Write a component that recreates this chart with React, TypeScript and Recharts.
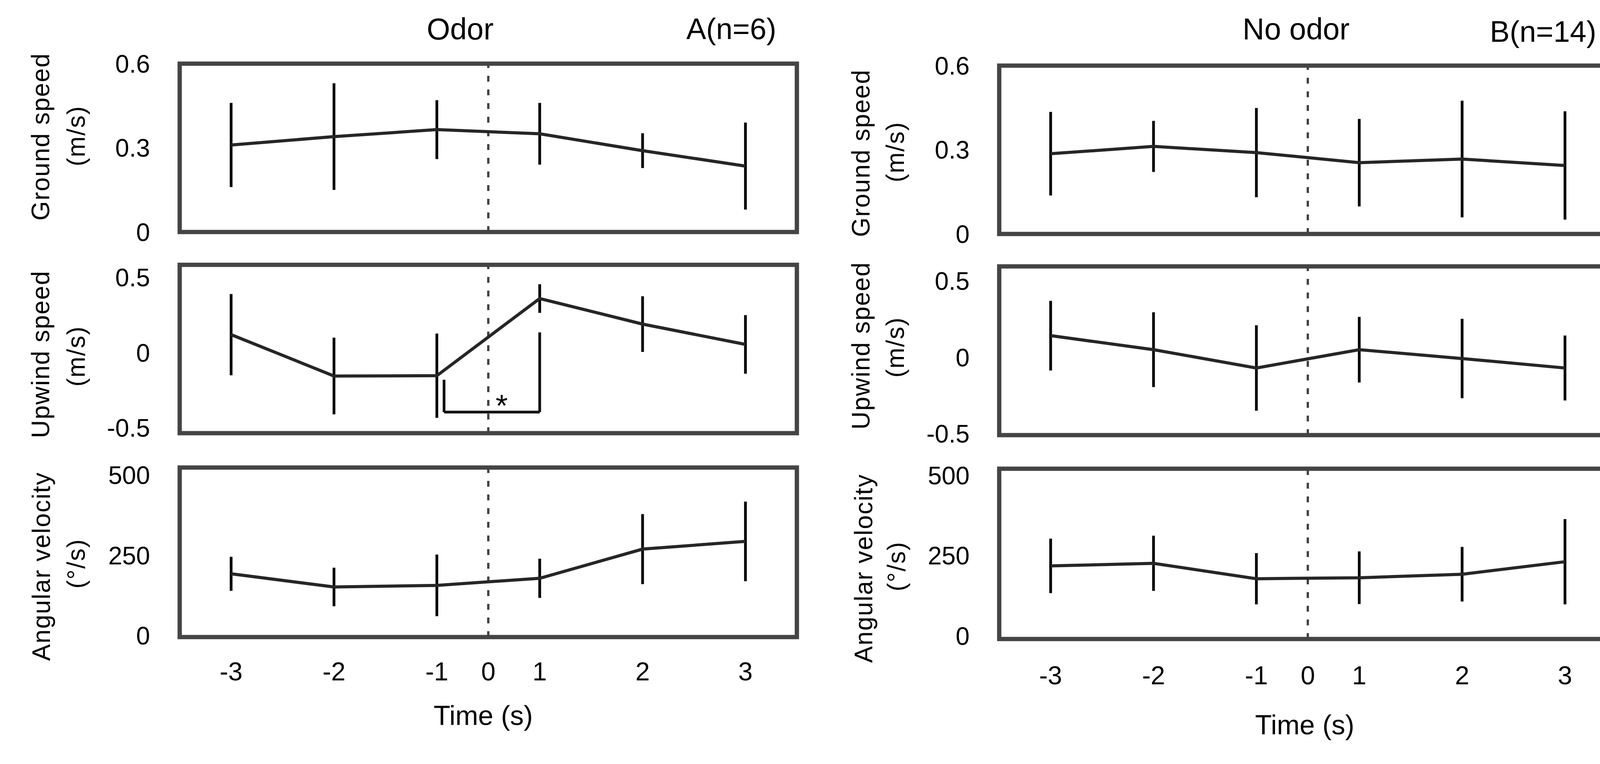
import React from 'react'
import { LineChart, Line, XAxis, YAxis, ErrorBar, ReferenceLine, ReferenceArea, ReferenceDot } from 'recharts'

// time points (s) that carry a measurement, and the ticks printed under the axis
const times = [-3, -2, -1, 1, 2, 3]
const tickTimes = [-3, -2, -1, 0, 1, 2, 3]

// A: odor (n=6)
const groundOdorMean = [0.31, 0.34, 0.365, 0.35, 0.29, 0.235]
const groundOdorErr = [0.15, 0.19, 0.105, 0.11, 0.062, 0.155]
const upwindOdorMean = [0.12, -0.155, -0.153, 0.36, 0.19, 0.055]
const upwindOdorErr = [0.27, 0.255, 0.28, 0.095, 0.185, 0.195]
const angularOdorMean = [193, 152, 157, 179, 270, 294]
const angularOdorErr = [53, 60, 96, 61, 109, 124]

// B: no odor (n=14)
const groundNoMean = [0.286, 0.312, 0.29, 0.254, 0.267, 0.244]
const groundNoErr = [0.149, 0.091, 0.159, 0.156, 0.208, 0.193]
const upwindNoMean = [0.142, 0.05, -0.07, 0.05, -0.008, -0.07]
const upwindNoErr = [0.228, 0.245, 0.28, 0.215, 0.26, 0.213]
const angularNoMean = [218, 226, 178, 181, 192, 231]
const angularNoErr = [85, 86, 80, 82, 85, 133]

const groundTicks = [0, 0.3, 0.6]
const upwindTicks = [-0.5, 0, 0.5]
const angularTicks = [0, 250, 500]

// significance bracket between -1 s and 1 s in the odor upwind panel (axis slots)
const bracketOdor = [
  { x: 2.07, y: -0.18 },
  { x: 2.07, y: -0.395 },
  { x: 3, y: -0.395 },
  { x: 3, y: 0.135 },
]
const starOdor = { x: 2.63, y: -0.35 }

// the figure has no slot for 0: -1 and 1 are neighbours and 0 sits halfway
const slot = (t: number) => (t < 0 ? t + 3 : t === 0 ? 2.5 : t + 2)
const tickSlots = tickTimes.map(slot)

const rows = (mean: number[], err: number[]) =>
  times.map((t, i) => ({ pos: slot(t), mean: mean[i], err: err[i] }))

const FONT = '"Liberation Sans", Arial, Helvetica, sans-serif'
const Y_AXIS_W = 200
const PAD = 44
const X_AXIS_H = 150

type PanelProps = {
  box: [number, number, number, number]
  domain: [number, number]
  ticks: number[]
  data: { pos: number; mean: number; err: number }[]
  showX?: boolean
  tickGap?: number
  children?: React.ReactNode
}

function Panel({ box, domain, ticks, data, showX = false, tickGap = 64, children }: PanelProps) {
  const [bx, by, bw, bh] = box
  const height = bh + PAD * 2 + (showX ? X_AXIS_H : 0)
  return (
    <div style={{ position: 'absolute', left: bx - Y_AXIS_W, top: by - PAD }}>
      <LineChart
        width={bw + Y_AXIS_W + PAD}
        height={height}
        data={data}
        margin={{ top: PAD, right: PAD, bottom: PAD, left: 0 }}
      >
        <XAxis
          type="number"
          dataKey="pos"
          domain={[-0.5, 5.5]}
          ticks={tickSlots}
          interval={0}
          tickFormatter={(v: number) => String(tickTimes[tickSlots.indexOf(v)])}
          hide={!showX}
          height={X_AXIS_H}
          tickLine={false}
          axisLine={false}
          tickSize={0}
          tickMargin={tickGap}
          tick={{ fontSize: 66, fill: '#000' }}
          allowDataOverflow
        />
        <YAxis
          type="number"
          domain={domain}
          ticks={ticks}
          interval={0}
          width={Y_AXIS_W}
          tickLine={false}
          axisLine={false}
          tickSize={0}
          tickMargin={76}
          tick={{ fontSize: 64, fill: '#000' }}
          allowDataOverflow
        />
        <ReferenceArea
          x1={-0.5}
          x2={5.5}
          y1={domain[0]}
          y2={domain[1]}
          fill="none"
          stroke="#444"
          strokeWidth={11}
          ifOverflow="visible"
        />
        <ReferenceLine x={2.5} stroke="#444" strokeWidth={6} strokeDasharray="15 20" />
        {children}
        <Line
          type="linear"
          dataKey="mean"
          stroke="#262626"
          strokeWidth={8}
          dot={false}
          activeDot={false}
          isAnimationActive={false}
        >
          <ErrorBar dataKey="err" width={0} stroke="#000" strokeWidth={7} direction="y" isAnimationActive={false} />
        </Line>
      </LineChart>
    </div>
  )
}

function VLabel({ x, y, text }: { x: number; y: number; text: string }) {
  return (
    <text
      x={x}
      y={y}
      transform={`rotate(-90 ${x} ${y})`}
      textAnchor="middle"
      dominantBaseline="central"
      fontSize={64}
      letterSpacing={2}
      fill="#000"
    >
      {text}
    </text>
  )
}

export default function App() {
  return (
    <div
      style={{
        position: 'absolute',
        left: 0,
        top: 0,
        width: 4206,
        height: 1956,
        background: '#fff',
        fontFamily: FONT,
      }}
    >
      {/* A: odor */}
      <Panel box={[460, 163, 1580, 431]} domain={[0, 0.6]} ticks={groundTicks} data={rows(groundOdorMean, groundOdorErr)} />
      <Panel box={[460, 678, 1580, 431]} domain={[-0.535, 0.584]} ticks={upwindTicks} data={rows(upwindOdorMean, upwindOdorErr)}>
        <ReferenceLine segment={[bracketOdor[0], bracketOdor[1]]} stroke="#111" strokeWidth={7} ifOverflow="visible" />
        <ReferenceLine segment={[bracketOdor[1], bracketOdor[2]]} stroke="#111" strokeWidth={7} ifOverflow="visible" />
        <ReferenceLine segment={[bracketOdor[2], bracketOdor[3]]} stroke="#111" strokeWidth={7} ifOverflow="visible" />
        <ReferenceDot
          x={starOdor.x}
          y={starOdor.y}
          r={1}
          fill="none"
          stroke="none"
          ifOverflow="visible"
          label={{ value: '*', position: 'center', fontSize: 80, fill: '#000' }}
        />
      </Panel>
      <Panel
        box={[460, 1197, 1580, 434]}
        domain={[-4, 524]}
        ticks={angularTicks}
        data={rows(angularOdorMean, angularOdorErr)}
        showX
        tickGap={64}
      />

      {/* B: no odor */}
      <Panel box={[2558, 168, 1580, 431]} domain={[0, 0.6]} ticks={groundTicks} data={rows(groundNoMean, groundNoErr)} />
      <Panel box={[2558, 682, 1580, 432]} domain={[-0.51, 0.596]} ticks={upwindTicks} data={rows(upwindNoMean, upwindNoErr)} />
      <Panel
        box={[2558, 1200, 1580, 436]}
        domain={[-10, 521]}
        ticks={angularTicks}
        data={rows(angularNoMean, angularNoErr)}
        showX
        tickGap={69}
      />

      <svg
        width={4206}
        height={1956}
        style={{ position: 'absolute', left: 0, top: 0, pointerEvents: 'none', fontFamily: FONT }}
      >
        <text x={1178} y={101} textAnchor="middle" fontSize={77} fill="#000">Odor</text>
        <text x={1757} y={100} fontSize={76} fill="#000">A(n=6)</text>
        <text x={3318} y={101} textAnchor="middle" fontSize={77} fill="#000">No odor</text>
        <text x={3814} y={107} fontSize={76} fill="#000">B(n=14)</text>

        <text x={1237} y={1856} textAnchor="middle" fontSize={70} fill="#000">Time (s)</text>
        <text x={3340} y={1880} textAnchor="middle" fontSize={70} fill="#000">Time (s)</text>

        <VLabel x={104} y={350} text="Ground speed" />
        <VLabel x={195} y={348} text="(m/s)" />
        <VLabel x={104} y={907} text="Upwind speed" />
        <VLabel x={195} y={912} text="(m/s)" />
        <VLabel x={106} y={1450} text="Angular velocity" />
        <VLabel x={195} y={1443} text="(°/s)" />

        <VLabel x={2204} y={392} text="Ground speed" />
        <VLabel x={2292} y={389} text="(m/s)" />
        <VLabel x={2204} y={885} text="Upwind speed" />
        <VLabel x={2292} y={889} text="(m/s)" />
        <VLabel x={2211} y={1455} text="Angular velocity" />
        <VLabel x={2295} y={1450} text="(°/s)" />
      </svg>
    </div>
  )
}
